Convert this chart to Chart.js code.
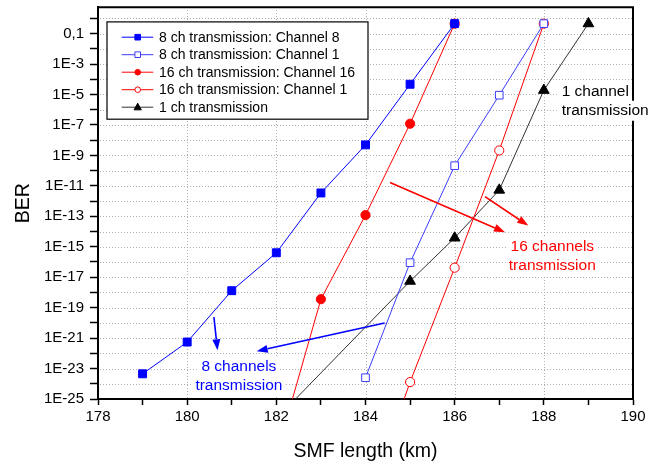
<!DOCTYPE html>
<html>
<head>
    <title>BER vs SMF length</title>
    <style>
        body {
            margin: 0;
            background: #fff;
        }
        canvas {
            display: block;
        }
    </style>
</head>
<body>
    <canvas id="ber-chart" width="649" height="461"></canvas>

    <script src="https://cdn.jsdelivr.net/npm/chart.js"></script>

    <script>
        // Measured BER against SMF length (km). Points below 1E-25 are off the plot,
        // they only give the clipped line running down to the axis.
        const ch8of8Km = [179, 180, 181, 182, 183, 184, 185, 186];
        const ch8of8Ber = [4.5e-24, 5.5e-22, 1.3e-18, 4e-16, 3.4e-12, 4.9e-9, 4.7e-5, 0.45];

        const ch1of8Km = [184, 185, 186, 187, 188];
        const ch1of8Ber = [2.5e-24, 9e-17, 2.1e-10, 9e-6, 0.45];

        const ch16of16Km = [182, 183, 184, 185, 186];
        const ch16of16Ber = [2e-29, 3.6e-19, 1.2e-13, 1.2e-7, 0.45];

        const ch1of16Km = [184, 185, 186, 187, 188];
        const ch1of16Ber = [6e-33, 1.3e-24, 4.2e-17, 2.1e-9, 0.45];

        const oneChKm = [182, 185, 186, 187, 188, 189];
        const oneChBer = [5e-27, 5.5e-18, 3.8e-15, 5.3e-12, 1.9e-5, 0.45];

        const seriesLabels = [
            '8 ch transmission: Channel 8',
            '8 ch transmission: Channel 1',
            '16 ch transmission: Channel 16',
            '16 ch transmission: Channel 1',
            '1 ch transmission'
        ];

        // Axis ticks
        const xTickValues = [178, 179, 180, 181, 182, 183, 184, 185, 186, 187, 188, 189, 190];
        const xTickLabels = ['178', '', '180', '', '182', '', '184', '', '186', '', '188', '', '190'];
        const yTickExps = [-25, -24, -23, -22, -21, -20, -19, -18, -17, -16, -15, -14, -13,
                           -12, -11, -10, -9, -8, -7, -6, -5, -4, -3, -2, -1, 0];
        const yTickLabels = ['1E-25', '', '1E-23', '', '1E-21', '', '1E-19', '', '1E-17', '',
                             '1E-15', '', '1E-13', '', '1E-11', '', '1E-9', '', '1E-7', '',
                             '1E-5', '', '1E-3', '', '0,1', ''];

        // Hand drawn notes, placed in data units: [km, log10(BER)]
        const notes = [
            { lines: ['1 channel', 'transmission'], at: [188.4, -4.82], align: 'left', color: '#000000' },
            { lines: ['16 channels', 'transmission'], at: [188.19, -14.97], align: 'center', color: '#ff0000' },
            { lines: ['8 channels', 'transmission'], at: [181.16, -22.85], align: 'center', color: '#0000ff' }
        ];
        const arrows = [
            { from: [184.55, -10.78], to: [187.13, -14.05], color: '#ff0000' },
            { from: [186.68, -11.71], to: [187.65, -13.61], color: '#ff0000' },
            { from: [180.60, -19.62], to: [180.68, -21.8], color: '#0000ff' },
            { from: [184.43, -20.01], to: [181.56, -21.86], color: '#0000ff' }
        ];

        const FONT = 'Arial, "Liberation Sans", sans-serif';
        const GRID = '#b0b0b0';

        function toPoints(xs, ys) {
            return xs.map((x, i) => ({ x: x, y: ys[i] }));
        }

        function makeSeries(i, xs, ys, style) {
            return {
                label: seriesLabels[i],
                data: toPoints(xs, ys),
                borderColor: style.line,
                borderWidth: 1,
                pointStyle: style.shape,
                pointRadius: style.radius,
                pointBorderWidth: 1,
                pointBorderColor: style.mark,
                pointBackgroundColor: style.open ? '#ffffff' : style.mark,
                backgroundColor: style.mark,
                fill: false,
                tension: 0,
                legendShape: style
            };
        }

        const datasets = [
            makeSeries(0, ch8of8Km, ch8of8Ber, { line: '#0000ff', mark: '#0000ff', shape: 'rect', radius: 5.6, open: false }),
            makeSeries(1, ch1of8Km, ch1of8Ber, { line: '#3c3cff', mark: '#3c3cff', shape: 'rect', radius: 5.4, open: true }),
            makeSeries(2, ch16of16Km, ch16of16Ber, { line: '#ff0000', mark: '#ff0000', shape: 'circle', radius: 4.6, open: false }),
            makeSeries(3, ch1of16Km, ch1of16Ber, { line: '#ff0000', mark: '#ff0000', shape: 'circle', radius: 4.6, open: true }),
            makeSeries(4, oneChKm, oneChBer, { line: '#333333', mark: '#000000', shape: 'triangle', radius: 6.2, open: false })
        ];

        // small marker for the legend
        function drawMarker(ctx, s, x, y, size) {
            ctx.save();
            ctx.beginPath();
            if (s.shape === 'rect') {
                ctx.rect(x - size, y - size, size * 2, size * 2);
            } else if (s.shape === 'circle') {
                ctx.arc(x, y, size, 0, Math.PI * 2);
            } else {
                ctx.moveTo(x, y - size * 1.2);
                ctx.lineTo(x + size * 1.1, y + size * 0.8);
                ctx.lineTo(x - size * 1.1, y + size * 0.8);
                ctx.closePath();
            }
            ctx.fillStyle = s.open ? '#ffffff' : s.mark;
            ctx.fill();
            ctx.lineWidth = 1;
            ctx.strokeStyle = s.mark;
            ctx.stroke();
            ctx.restore();
        }

        function drawArrow(ctx, x1, y1, x2, y2, color) {
            const ang = Math.atan2(y2 - y1, x2 - x1);
            const headLen = 11, headHalf = 4;
            const bx = x2 - Math.cos(ang) * headLen;
            const by = y2 - Math.sin(ang) * headLen;
            ctx.save();
            ctx.strokeStyle = color;
            ctx.fillStyle = color;
            ctx.lineWidth = 1.6;
            ctx.beginPath();
            ctx.moveTo(x1, y1);
            ctx.lineTo(bx, by);
            ctx.stroke();
            ctx.beginPath();
            ctx.moveTo(x2, y2);
            ctx.lineTo(bx + Math.sin(ang) * headHalf, by - Math.cos(ang) * headHalf);
            ctx.lineTo(bx - Math.sin(ang) * headHalf, by + Math.cos(ang) * headHalf);
            ctx.closePath();
            ctx.fill();
            ctx.restore();
        }

        // dotted grid: every decade on y, labelled ticks only on x (1px dots, 3px apart)
        const gridPlugin = {
            id: 'dottedGrid',
            beforeDatasetsDraw(chart) {
                const ctx = chart.ctx;
                const area = chart.chartArea;
                const l = Math.ceil(area.left), r = Math.floor(area.right);
                const t = Math.ceil(area.top), b = Math.floor(area.bottom);
                ctx.save();
                ctx.fillStyle = GRID;
                yTickExps.forEach(e => {
                    const y = Math.round(chart.scales.y.getPixelForValue(Math.pow(10, e)));
                    if (y >= b - 1 || y <= t + 1) return;
                    for (let x = l + 2; x < r - 1; x += 3) ctx.fillRect(x, y, 1, 1);
                });
                xTickValues.forEach((v, i) => {
                    if (!xTickLabels[i]) return;
                    const x = Math.round(chart.scales.x.getPixelForValue(v));
                    if (x <= l + 1 || x >= r - 1) return;
                    for (let y = t + 2; y < b - 1; y += 3) ctx.fillRect(x, y, 1, 1);
                });
                ctx.restore();
            }
        };

        // frame, notes, arrows and legend box on top of the data
        const extrasPlugin = {
            id: 'extras',
            afterDraw(chart) {
                const ctx = chart.ctx;
                const area = chart.chartArea;
                const xs = chart.scales.x;
                const ys = chart.scales.y;
                const px = km => xs.getPixelForValue(km);
                const py = e => ys.getPixelForValue(Math.pow(10, e));

                // top and right side of the box
                ctx.save();
                ctx.strokeStyle = '#000';
                ctx.lineWidth = 2;
                ctx.beginPath();
                ctx.moveTo(area.left, area.top);
                ctx.lineTo(area.right, area.top);
                ctx.lineTo(area.right, area.bottom);
                ctx.stroke();
                ctx.restore();

                arrows.forEach(a => {
                    drawArrow(ctx, px(a.from[0]), py(a.from[1]), px(a.to[0]), py(a.to[1]), a.color);
                });

                ctx.save();
                ctx.font = '15.5px ' + FONT;
                ctx.textBaseline = 'middle';
                notes.forEach(n => {
                    const x0 = px(n.at[0]);
                    const y0 = py(n.at[1]);
                    n.lines.forEach((t, i) => {
                        const w = ctx.measureText(t).width;
                        const y = y0 + i * 19;
                        const left = n.align === 'left' ? x0 : x0 - w / 2;
                        ctx.fillStyle = '#ffffff';
                        ctx.fillRect(left - 3, y - 10, w + 6, 20);
                        ctx.fillStyle = n.color;
                        ctx.textAlign = 'left';
                        ctx.fillText(t, left, y);
                    });
                });
                ctx.restore();

                // legend
                const lx = area.left + 9, ly = area.top + 14.7;
                const lw = 261, lh = 97.3;
                ctx.save();
                ctx.fillStyle = '#ffffff';
                ctx.fillRect(lx, ly, lw, lh);
                ctx.strokeStyle = '#000';
                ctx.lineWidth = 1.2;
                ctx.strokeRect(lx, ly, lw, lh);
                ctx.font = '14px ' + FONT;
                ctx.textBaseline = 'middle';
                ctx.textAlign = 'left';
                chart.data.datasets.forEach((ds, i) => {
                    const s = ds.legendShape;
                    const y = ly + 15.3 + i * 17.5;
                    ctx.strokeStyle = s.line;
                    ctx.lineWidth = 1;
                    ctx.beginPath();
                    ctx.moveTo(lx + 14.7, y);
                    ctx.lineTo(lx + 46.3, y);
                    ctx.stroke();
                    drawMarker(ctx, s, lx + 30.7, y, s.shape === 'triangle' ? 3.3 : 2.8);
                    ctx.fillStyle = '#000';
                    ctx.fillText(ds.label, lx + 52, y + 0.5);
                });
                ctx.restore();
            }
        };

        const ctx = document.getElementById('ber-chart').getContext('2d');

        const berChart = new Chart(ctx, {
            type: 'line',
            data: { datasets: datasets },
            plugins: [gridPlugin, extrasPlugin],
            options: {
                responsive: false,
                animation: false,
                layout: {
                    padding: { top: 6, right: 16, left: 0, bottom: 0 }
                },
                plugins: {
                    legend: { display: false },
                    tooltip: { enabled: false }
                },
                scales: {
                    x: {
                        type: 'linear',
                        min: 178,
                        max: 190,
                        afterBuildTicks: s => {
                            s.ticks = xTickValues.map(v => ({ value: v }));
                        },
                        afterFit: s => {
                            s.height = 62;
                            s.paddingLeft = 0;
                            s.paddingRight = 0;
                        },
                        ticks: {
                            autoSkip: false,
                            maxRotation: 0,
                            padding: 3,
                            color: '#000',
                            font: { family: FONT, size: 15 },
                            callback: (value, index) => xTickLabels[xTickValues.indexOf(value)]
                        },
                        grid: {
                            drawOnChartArea: false,
                            tickColor: '#000',
                            tickLength: 6,
                            tickWidth: 1.5
                        },
                        border: { color: '#000', width: 2 },
                        title: {
                            display: true,
                            text: 'SMF length (km)',
                            color: '#000',
                            font: { family: FONT, size: 19.5, lineHeight: 1 },
                            padding: { top: 0, bottom: 0 }
                        }
                    },
                    y: {
                        type: 'logarithmic',
                        min: 1e-25,
                        max: 5.4,
                        afterBuildTicks: s => {
                            s.ticks = yTickExps.map(e => ({ value: Math.pow(10, e) }));
                        },
                        afterFit: s => {
                            s.width = 98;
                            s.paddingTop = 0;
                            s.paddingBottom = 0;
                        },
                        ticks: {
                            autoSkip: false,
                            padding: 6,
                            color: '#000',
                            font: { family: FONT, size: 15 },
                            callback: value => {
                                const e = Math.round(Math.log10(value));
                                const i = yTickExps.indexOf(e);
                                return i >= 0 ? yTickLabels[i] : '';
                            }
                        },
                        grid: {
                            drawOnChartArea: false,
                            tickColor: '#000',
                            tickLength: 8,
                            tickWidth: 1.5
                        },
                        border: { color: '#000', width: 2 },
                        title: {
                            display: true,
                            text: 'BER',
                            color: '#000',
                            font: { family: FONT, size: 19.5, lineHeight: 1.2 },
                            padding: { top: 11.5, bottom: 0 }
                        }
                    }
                }
            }
        });
    </script>
</body>
</html>
